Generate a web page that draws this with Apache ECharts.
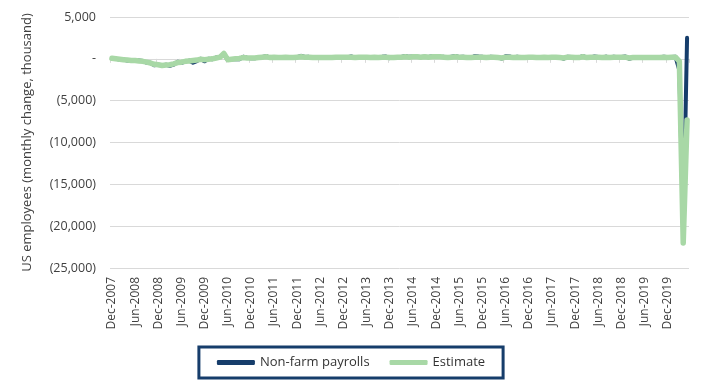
<!DOCTYPE html>
<html><head><meta charset="utf-8">
<script src="https://cdn.jsdelivr.net/npm/echarts@6/dist/echarts.min.js"></script>
<style>html,body{margin:0;padding:0;background:#fff}#c{width:702px;height:383px}</style>
</head><body><div id="c"></div>
<script>
// Months Dec-2007 .. May-2020
var months = (function(){
  var names=['Jan','Feb','Mar','Apr','May','Jun','Jul','Aug','Sep','Oct','Nov','Dec'];
  var out=['Dec-2007'];
  for (var y=2008;y<=2020;y++){ for (var m=0;m<12;m++){ if(y===2020&&m>4) break; out.push(names[m]+'-'+y);} }
  return out;
})();

var nonFarmPayrolls = [
  97,
  17,-84,-78,-210,-185,-165,-209,-266,-452,-473,-769,-695,
  -791,-703,-823,-687,-349,-471,-329,-213,-456,-266,6,-283,
  18,-50,156,251,516,-122,-61,-42,-57,241,137,71,
  70,168,212,322,102,217,106,122,221,183,164,196,
  360,226,243,96,110,88,160,150,161,225,203,214,
  197,280,141,203,199,201,149,202,164,237,274,84,
  165,188,225,330,236,286,249,213,250,221,329,292,
  234,238,86,262,344,206,254,157,100,321,272,239,
  126,237,225,153,43,297,291,135,249,124,155,228,
  195,176,104,205,102,216,201,187,14,256,220,164,
  171,330,163,170,270,217,155,270,100,250,200,227,
  269,1,147,210,85,182,194,207,208,185,261,184,
  214,251,-1373,-20687,2509
];

var estimate = [
  60,
  0,-50,-100,-150,-200,-200,-250,-300,-400,-500,-650,-700,
  -800,-750,-700,-600,-450,-400,-300,-250,-200,-150,-50,-100,
  -50,0,100,200,650,-100,-50,0,50,150,100,100,
  100,150,200,250,150,200,150,150,200,150,150,200,
  250,200,200,150,150,150,150,150,150,200,200,200,
  200,200,150,200,200,200,150,200,150,200,200,150,
  150,200,200,250,200,250,250,200,250,200,250,250,
  250,200,150,200,250,200,200,150,150,200,200,200,
  150,200,200,150,100,200,200,150,200,150,150,200,
  200,150,150,200,150,200,200,150,100,200,200,150,
  150,250,150,200,200,200,150,200,150,200,200,200,
  200,100,150,150,150,150,150,150,150,150,200,150,
  200,200,-300,-22000,-7300
];

var yTicks = {min:-25000, max:5000, interval:5000};

function fmtY(v){
  if (v===0) return '-';
  var s = Math.abs(v).toLocaleString('en-US');
  return v<0 ? '('+s+')' : s;
}

var chart = echarts.init(document.getElementById('c'));
var font = 'Open Sans';
chart.setOption({
  animation:false,
  textStyle:{fontFamily:font},
  grid:{left:110,right:13,top:17,bottom:115},
  legend:{
    bottom:5, left:'center',
    data:[{name:'Non-farm payrolls'},{name:'Estimate'}],
    icon:'roundRect', itemWidth:38, itemHeight:5, itemGap:20,
    borderColor:'#163d6b', borderWidth:3, padding:[9,18,9,18],
    textStyle:{color:'#333',fontSize:13,fontFamily:font}
  },
  xAxis:[{
    type:'category', data:months, position:'bottom',
    axisLine:{onZero:false,show:false}, axisTick:{show:false},
    axisLabel:{rotate:90, interval:5, color:'#404040', fontSize:12, margin:9}
  },{
    type:'category', data:months, position:'bottom',
    axisLine:{onZero:true,lineStyle:{color:'#d9d9d9'}},
    axisTick:{show:true,interval:5,length:4,lineStyle:{color:'#d9d9d9'}},
    axisLabel:{show:false}
  }],
  yAxis:{
    type:'value', min:yTicks.min, max:yTicks.max, interval:yTicks.interval,
    name:'US employees (monthly change, thousand)', nameLocation:'middle', nameGap:76,
    nameTextStyle:{color:'#404040',fontSize:13},
    axisLine:{show:false}, axisTick:{show:false},
    splitLine:{lineStyle:{color:'#d9d9d9'}},
    axisLabel:{formatter:fmtY, color:'#404040', fontSize:12.5, margin:14}
  },
  series:[{
    name:'Non-farm payrolls', type:'line', data:nonFarmPayrolls, xAxisIndex:0,
    showSymbol:false, symbol:'none', color:'#163d6b',
    lineStyle:{width:4,color:'#163d6b',join:'round',cap:'round'}
  },{
    name:'Estimate', type:'line', data:estimate, xAxisIndex:0,
    showSymbol:false, symbol:'none', color:'#a8d8a6',
    lineStyle:{width:5.5,color:'#a8d8a6',join:'round',cap:'round'}
  }]
});
</script></body></html>
